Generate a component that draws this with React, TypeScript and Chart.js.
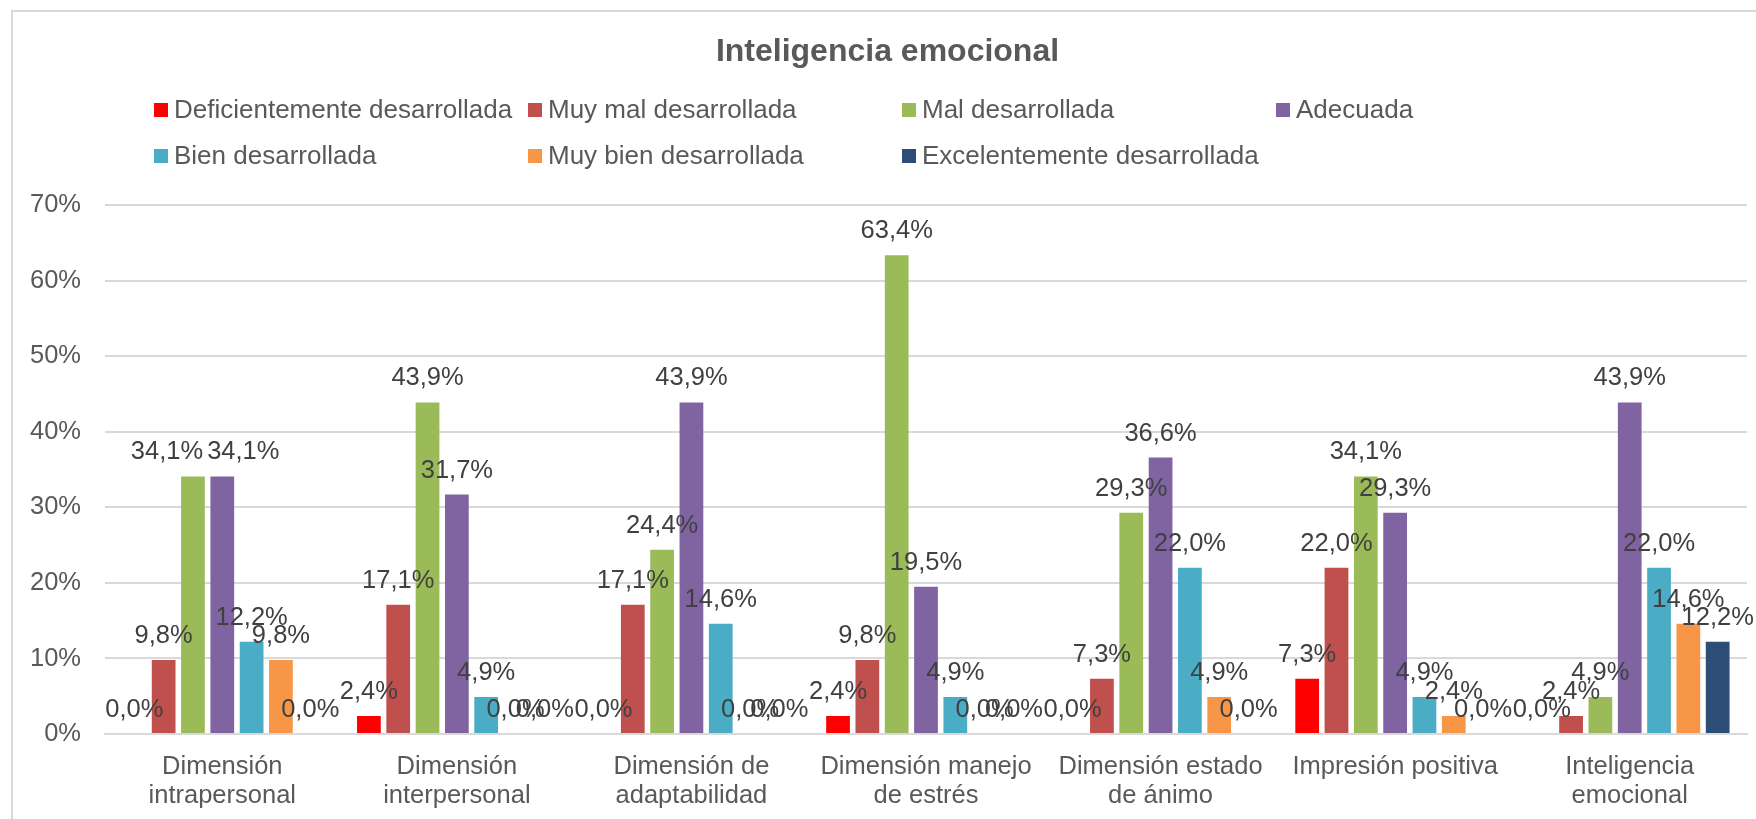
import React, { useEffect, useRef } from "react";
import { Chart, registerables } from "chart.js";

Chart.register(...registerables);

const categories: (string | string[])[] = [
  ["Dimensión", "intrapersonal"],
  ["Dimensión", "interpersonal"],
  ["Dimensión de", "adaptabilidad"],
  ["Dimensión manejo", "de estrés"],
  ["Dimensión estado", "de ánimo"],
  "Impresión positiva",
  ["Inteligencia", "emocional"],
];

const seriesNames = [
  "Deficientemente desarrollada",
  "Muy mal desarrollada",
  "Mal desarrollada",
  "Adecuada",
  "Bien desarrollada",
  "Muy bien desarrollada",
  "Excelentemente desarrollada",
];

const deficiente = [0.0, 2.4, 0.0, 2.4, 0.0, 7.3, 0.0];
const muyMal = [9.8, 17.1, 17.1, 9.8, 7.3, 22.0, 2.4];
const mal = [34.1, 43.9, 24.4, 63.4, 29.3, 34.1, 4.9];
const adecuada = [34.1, 31.7, 43.9, 19.5, 36.6, 29.3, 43.9];
const bien = [12.2, 4.9, 14.6, 4.9, 22.0, 4.9, 22.0];
const muyBien = [9.8, 0.0, 0.0, 0.0, 4.9, 2.4, 14.6];
const excelente = [0.0, 0.0, 0.0, 0.0, 0.0, 0.0, 12.2];

const yTicks = [0, 10, 20, 30, 40, 50, 60, 70];

const colors = ["#FF0000", "#C0504D", "#9BBB59", "#8064A2", "#4BACC6", "#F79646", "#2C4D75"];

const FONT = "'Liberation Sans', Arial, sans-serif";

const fmt = (v: number) => v.toFixed(1).replace(".", ",") + "%";

// manual label nudges seen in the reference (dataset-category -> px)
const labelNudge: Record<string, number> = { "2-0": -26, "3-0": 21 };

const frameAndLegend = {
  id: "frameAndLegend",
  beforeDraw(chart: any) {
    const ctx = chart.ctx;
    ctx.save();
    ctx.fillStyle = "#ffffff";
    ctx.fillRect(0, 0, chart.width, chart.height);
    ctx.strokeStyle = "#d9d9d9";
    ctx.lineWidth = 2;
    ctx.strokeRect(12, 11, chart.width + 20, chart.height + 20);
    ctx.restore();
  },
  afterDraw(chart: any) {
    const ctx = chart.ctx;
    const colX = [154, 528, 902, 1276];
    const rowY = [110, 156];
    ctx.save();
    ctx.font = `26px ${FONT}`;
    ctx.textBaseline = "middle";
    ctx.textAlign = "left";
    chart.data.datasets.forEach((ds: any, i: number) => {
      const x = colX[i % 4];
      const y = rowY[Math.floor(i / 4)];
      ctx.fillStyle = ds.backgroundColor;
      ctx.fillRect(x, y - 7, 14, 14);
      ctx.fillStyle = "#595959";
      ctx.fillText(ds.label, x + 20, y + 1);
    });
    ctx.restore();
  },
};

const dataLabels = {
  id: "dataLabels",
  afterDatasetsDraw(chart: any) {
    const ctx = chart.ctx;
    ctx.save();
    ctx.font = `25.5px ${FONT}`;
    ctx.fillStyle = "#404040";
    ctx.textAlign = "center";
    ctx.textBaseline = "alphabetic";
    chart.data.datasets.forEach((ds: any, i: number) => {
      const meta = chart.getDatasetMeta(i);
      meta.data.forEach((bar: any, j: number) => {
        const dx = labelNudge[`${i}-${j}`] || 0;
        ctx.fillText(fmt(ds.data[j]), bar.x + dx, bar.y - 17);
      });
    });
    ctx.restore();
  },
};

export default function App() {
  const ref = useRef<HTMLCanvasElement>(null);
  useEffect(() => {
    const series = [deficiente, muyMal, mal, adecuada, bien, muyBien, excelente];
    const chart = new Chart(ref.current!, {
      type: "bar",
      data: {
        labels: categories,
        datasets: series.map((d, i) => ({
          label: seriesNames[i],
          data: d,
          backgroundColor: colors[i],
          borderWidth: 0,
          categoryPercentage: 0.875,
          barPercentage: 0.81,
        })),
      },
      options: {
        responsive: false,
        animation: false,
        layout: { padding: { left: 28, right: 9, top: 0, bottom: 10 } },
        plugins: {
          legend: { display: false },
          tooltip: { enabled: false },
          title: {
            display: true,
            text: "Inteligencia emocional",
            color: "#595959",
            font: { family: FONT, size: 32, weight: "bold" },
            padding: { top: 33, bottom: 134 },
          },
        },
        scales: {
          x: {
            afterFit: (scale: any) => {
              scale.height = 75;
            },
            grid: { display: false, drawTicks: false },
            border: { display: true, color: "#d9d9d9", width: 2 },
            ticks: {
              color: "#595959",
              font: { family: FONT, size: 25.5, lineHeight: 1.15 },
              padding: 18,
              maxRotation: 0,
              autoSkip: false,
            },
          },
          y: {
            min: 0,
            max: 70,
            afterFit: (scale: any) => {
              scale.width = 77;
            },
            afterBuildTicks: (scale: any) => {
              scale.ticks = yTicks.map((v) => ({ value: v }));
            },
            grid: { color: "#d9d9d9", lineWidth: 2, drawTicks: false },
            border: { display: false },
            ticks: {
              color: "#595959",
              font: { family: FONT, size: 25.5 },
              padding: 24,
              callback: (v: any) => `${v}%`,
            },
          },
        },
      },
      plugins: [frameAndLegend, dataLabels],
    });
    return () => chart.destroy();
  }, []);
  return (
    <div style={{ position: "absolute", left: 0, top: 0, width: 1756, height: 819, overflow: "hidden", background: "#fff" }}>
      <canvas ref={ref} width={1756} height={819} style={{ display: "block" }} />
    </div>
  );
}
